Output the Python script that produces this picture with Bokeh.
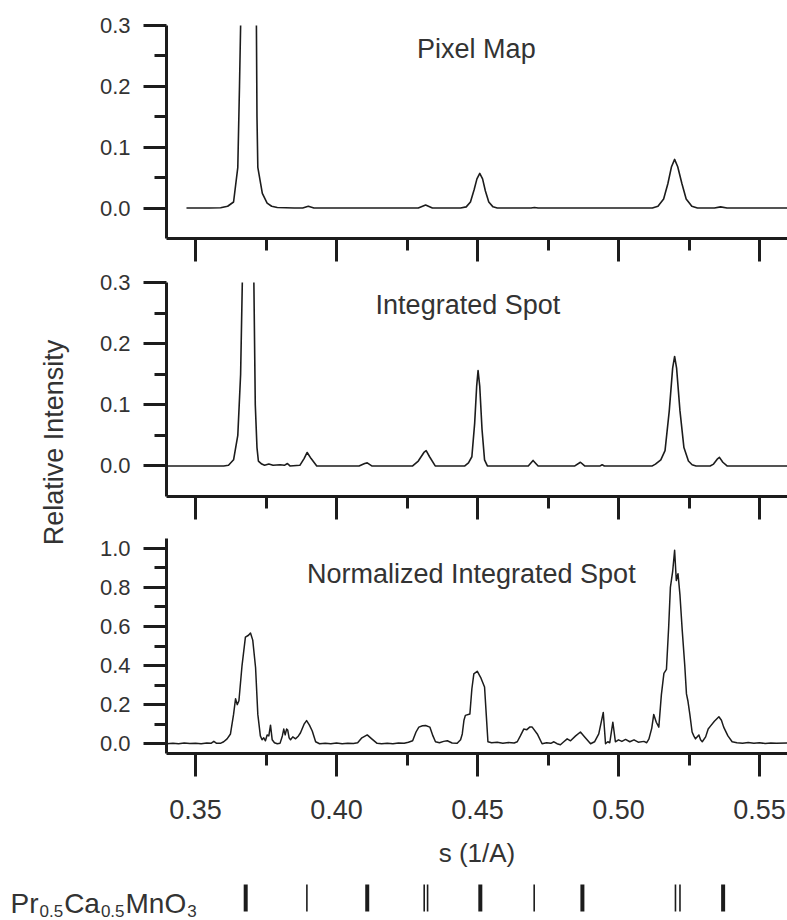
import math
from bokeh.plotting import figure
from bokeh.models import FixedTicker, NumeralTickFormatter, Label, Range1d
from bokeh.layouts import column, row
from bokeh.embed import file_html
from bokeh.resources import INLINE

# ---------------- data ----------------
x_major = [0.35, 0.40, 0.45, 0.50, 0.55]
x_minor = [0.375, 0.425, 0.475, 0.525]

# Pixel Map
pm_s = [0.3468, 0.3550, 0.3589, 0.3614, 0.3635, 0.3650, 0.3656, 0.3660, 0.3688,
        0.3716, 0.3718, 0.3721, 0.3737, 0.3754, 0.3770, 0.3790, 0.3850, 0.3880, 0.3900,
        0.3920, 0.4100, 0.4290, 0.4316, 0.4340, 0.4420, 0.4440, 0.4460, 0.4475, 0.4488,
        0.4498, 0.4508, 0.4518, 0.4528, 0.4540, 0.4555, 0.4570, 0.4690, 0.4702, 0.4715,
        0.5100, 0.5120, 0.5140, 0.5160, 0.5175, 0.5188, 0.5199, 0.5210, 0.5225, 0.5240,
        0.5260, 0.5280, 0.5340, 0.5362, 0.5385, 0.5650]
pm_v = [0.000, 0.000, 0.0005, 0.003, 0.010, 0.067, 0.200, 0.300, 1.000,
        0.300, 0.150, 0.067, 0.024, 0.008, 0.003, 0.001, 0.000, 0.000, 0.003,
        0.000, 0.000, 0.000, 0.005, 0.000, 0.000, 0.000, 0.002, 0.010, 0.030,
        0.048, 0.057, 0.048, 0.028, 0.010, 0.002, 0.000, 0.000, 0.001, 0.000,
        0.000, 0.000, 0.003, 0.015, 0.040, 0.068, 0.080, 0.068, 0.040, 0.015,
        0.003, 0.000, 0.000, 0.002, 0.000, 0.000]

# Integrated Spot
is_s = [0.3390, 0.3600, 0.3617, 0.3635, 0.3650, 0.3660, 0.3666, 0.3686, 0.3707, 0.3712,
        0.3718, 0.3723, 0.3735, 0.3745, 0.3760, 0.3775, 0.3800, 0.3815, 0.3826, 0.3835,
        0.3870, 0.3885, 0.3896, 0.3910, 0.3930, 0.4080, 0.4100, 0.4109, 0.4125, 0.4270,
        0.4290, 0.4310, 0.4318, 0.4330, 0.4350, 0.4455, 0.4468, 0.4480, 0.4490, 0.4497,
        0.4502, 0.4508, 0.4516, 0.4525, 0.4535, 0.4680, 0.4697, 0.4715, 0.4845, 0.4865,
        0.4880, 0.4935, 0.4942, 0.4950, 0.5120, 0.5131, 0.5150, 0.5165, 0.5180, 0.5192,
        0.5199, 0.5206, 0.5218, 0.5232, 0.5248, 0.5261, 0.5275, 0.5325, 0.5337, 0.5350,
        0.5358, 0.5370, 0.5385, 0.5650]
is_v = [0.000, 0.000, 0.001, 0.010, 0.050, 0.150, 0.300, 1.000, 0.300, 0.100,
        0.030, 0.008, 0.003, 0.001, 0.003, 0.001, 0.002, 0.001, 0.004, 0.000,
        0.001, 0.012, 0.022, 0.012, 0.000, 0.000, 0.004, 0.005, 0.000, 0.000,
        0.008, 0.022, 0.025, 0.015, 0.000, 0.000, 0.005, 0.015, 0.070, 0.130,
        0.156, 0.130, 0.060, 0.010, 0.000, 0.000, 0.009, 0.000, 0.000, 0.006,
        0.000, 0.000, 0.002, 0.000, 0.000, 0.003, 0.010, 0.025, 0.090, 0.160,
        0.179, 0.160, 0.090, 0.030, 0.008, 0.002, 0.000, 0.000, 0.003, 0.011,
        0.014, 0.006, 0.000, 0.000]

# Normalized Integrated Spot
ns_s = [0.3397, 0.3420, 0.3440, 0.3460, 0.3480, 0.3500, 0.3520, 0.3540, 0.3555, 0.3565,
        0.3575, 0.3590, 0.3600, 0.3612, 0.3624, 0.3635, 0.3642, 0.3648, 0.3654, 0.3665,
        0.3677, 0.3688, 0.3695, 0.3703, 0.3713, 0.3721, 0.3730, 0.3736, 0.3742, 0.3748,
        0.3754, 0.3760, 0.3766, 0.3772, 0.3780, 0.3790, 0.3800, 0.3808, 0.3813, 0.3818,
        0.3823, 0.3827, 0.3832, 0.3837, 0.3845, 0.3855, 0.3865, 0.3872, 0.3885, 0.3894,
        0.3904, 0.3914, 0.3926, 0.3940, 0.3960, 0.3980, 0.4000, 0.4020, 0.4040, 0.4060,
        0.4075, 0.4090, 0.4109, 0.4125, 0.4144, 0.4160, 0.4180, 0.4200, 0.4220, 0.4240,
        0.4255, 0.4270, 0.4282, 0.4292, 0.4305, 0.4316, 0.4331, 0.4342, 0.4351, 0.4365,
        0.4380, 0.4393, 0.4410, 0.4428, 0.4440, 0.4446, 0.4452, 0.4457, 0.4473, 0.4480,
        0.4487, 0.4499, 0.4511, 0.4525, 0.4531, 0.4537, 0.4550, 0.4570, 0.4590, 0.4610,
        0.4630, 0.4641, 0.4652, 0.4664, 0.4675, 0.4685, 0.4694, 0.4712, 0.4729, 0.4745,
        0.4760, 0.4771, 0.4782, 0.4794, 0.4806, 0.4818, 0.4830, 0.4848, 0.4865, 0.4880,
        0.4901, 0.4915, 0.4930, 0.4946, 0.4954, 0.4962, 0.4969, 0.4980, 0.4989, 0.5000,
        0.5012, 0.5025, 0.5040, 0.5055, 0.5070, 0.5090, 0.5100, 0.5108, 0.5118, 0.5125,
        0.5134, 0.5143, 0.5152, 0.5161, 0.5170, 0.5178, 0.5184, 0.5192, 0.5199, 0.5205,
        0.5211, 0.5218, 0.5226, 0.5235, 0.5241, 0.5246, 0.5253, 0.5261, 0.5267, 0.5273,
        0.5285, 0.5291, 0.5297, 0.5309, 0.5318, 0.5326, 0.5340, 0.5356, 0.5365, 0.5373,
        0.5388, 0.5403, 0.5420, 0.5440, 0.5460, 0.5480, 0.5500, 0.5520, 0.5540, 0.5560,
        0.5600]
ns_v = [0.000, 0.003, 0.000, 0.004, 0.001, 0.003, 0.000, 0.004, 0.002, 0.012,
        0.002, 0.003, 0.010, 0.025, 0.050, 0.150, 0.230, 0.200, 0.220, 0.400,
        0.545, 0.555, 0.566, 0.530, 0.390, 0.150, 0.040, 0.020, 0.030, 0.015,
        0.045, 0.040, 0.095, 0.020, 0.005, 0.000, 0.003, 0.040, 0.075, 0.045,
        0.075, 0.070, 0.030, 0.020, 0.035, 0.025, 0.040, 0.055, 0.100, 0.118,
        0.095, 0.065, 0.010, 0.000, 0.003, 0.000, 0.004, 0.000, 0.003, 0.001,
        0.005, 0.030, 0.045, 0.025, 0.002, 0.000, 0.003, 0.000, 0.004, 0.002,
        0.008, 0.015, 0.060, 0.085, 0.092, 0.093, 0.085, 0.040, 0.010, 0.005,
        0.012, 0.015, 0.004, 0.002, 0.020, 0.050, 0.120, 0.145, 0.152, 0.280,
        0.357, 0.371, 0.340, 0.290, 0.150, 0.010, 0.005, 0.007, 0.003, 0.006,
        0.004, 0.010, 0.040, 0.075, 0.072, 0.085, 0.085, 0.050, 0.000, 0.005,
        0.002, 0.010, 0.000, -0.005, 0.010, 0.025, 0.015, 0.040, 0.060, 0.035,
        0.000, 0.010, 0.050, 0.160, 0.000, 0.010, 0.005, 0.110, 0.010, 0.020,
        0.012, 0.022, 0.010, 0.020, 0.008, 0.012, 0.005, 0.025, 0.080, 0.150,
        0.110, 0.085, 0.250, 0.360, 0.380, 0.600, 0.800, 0.880, 0.990, 0.835,
        0.870, 0.760, 0.580, 0.400, 0.255, 0.220, 0.150, 0.060, 0.040, 0.025,
        0.045, 0.020, 0.010, 0.035, 0.075, 0.090, 0.115, 0.138, 0.120, 0.085,
        0.040, 0.010, 0.005, 0.002, 0.006, 0.002, 0.005, 0.001, 0.004, 0.002,
        0.004]

# Pr0.5Ca0.5MnO3 reflection positions
refl_s = [0.3678, 0.3895, 0.4109, 0.4311, 0.4323, 0.4510, 0.4701, 0.4872, 0.5202, 0.5218, 0.5371]
refl_strong = [True, False, True, False, False, True, False, True, False, False, True]

panel_titles = ["Pixel Map", "Integrated Spot", "Normalized Integrated Spot"]
y_label = "Relative Intensity"
x_label = "s (1/A)"
formula_parts = ["Pr", "0.5", "Ca", "0.5", "MnO", "3"]
formula_is_sub = [False, True, False, True, False, True]

# ---------------- styling / layout ----------------
FONT = "Liberation Sans"
INK = "#1c1c1c"
TXT = "#333333"
LABEL_W = 70            # strip holding the rotated y label
AXIS_X = 166            # page x of the y axes
FW = 787 - AXIS_X       # frame width
PPU = 2820.0            # pixels per unit of s
X0 = 0.35 - (195 - AXIS_X) / PPU
X1 = X0 + FW / PPU


def style_axes(p, show_x_labels):
    for ax in (p.xaxis[0], p.yaxis[0]):
        ax.axis_line_width = 3
        ax.axis_line_color = INK
        ax.major_tick_line_width = 3
        ax.minor_tick_line_width = 3
        ax.major_tick_line_color = INK
        ax.minor_tick_line_color = INK
        ax.major_tick_in = 0
        ax.minor_tick_in = 0
        ax.major_tick_out = 23
        ax.minor_tick_out = 12
        ax.major_label_text_font = FONT
        ax.major_label_text_color = TXT
    p.yaxis[0].major_label_text_font_size = "22px"
    p.yaxis[0].major_label_standoff = 13
    p.xaxis[0].ticker = FixedTicker(ticks=x_major, minor_ticks=x_minor)
    if show_x_labels:
        p.xaxis[0].formatter = NumeralTickFormatter(format="0.00")
        p.xaxis[0].major_label_text_font_size = "27px"
        p.xaxis[0].major_label_standoff = 23
    else:
        p.xaxis[0].major_label_overrides = {t: "" for t in x_major}
        p.xaxis[0].major_label_text_font_size = "10px"
        p.xaxis[0].major_label_standoff = 2
    p.xgrid.visible = False
    p.ygrid.visible = False
    p.outline_line_color = None
    p.background_fill_color = "white"
    p.border_fill_color = "white"


def panel(frame_h, yr, yt, ym, top, bottom, show_x_labels=False):
    p = figure(frame_width=FW, frame_height=frame_h,
               x_range=Range1d(X0, X1), y_range=Range1d(*yr),
               output_backend="svg", toolbar_location=None,
               min_border_left=AXIS_X - LABEL_W, min_border_right=0,
               min_border_top=top, min_border_bottom=bottom)
    style_axes(p, show_x_labels)
    p.yaxis[0].ticker = FixedTicker(ticks=yt, minor_ticks=ym)
    p.yaxis[0].formatter = NumeralTickFormatter(format="0.0")
    return p


def title(p, text, x, y):
    p.add_layout(Label(x=x, y=y, text=text, text_font=FONT, text_font_size="27px",
                       text_color=TXT, text_align="center", text_baseline="middle"))


# top: Pixel Map   (frame 25..238)
p1 = panel(213, (-0.05, 0.30), [0.0, 0.1, 0.2, 0.3], [0.05, 0.15, 0.25], 25, 31)
p1.line(pm_s, pm_v, line_color=INK, line_width=1.6, line_join="round")
title(p1, panel_titles[0], 0.4496, 0.262)

# middle: Integrated Spot   (frame 282..496)
p2 = panel(214, (-0.05, 0.30), [0.0, 0.1, 0.2, 0.3], [0.05, 0.15, 0.25], 13, 29)
p2.line(is_s, is_v, line_color=INK, line_width=1.6, line_join="round")
title(p2, panel_titles[1], 0.4466, 0.264)

# bottom: Normalized Integrated Spot   (frame 538..753)
p3 = panel(215, (-0.05, 1.05), [0.0, 0.2, 0.4, 0.6, 0.8, 1.0], [0.1, 0.3, 0.5, 0.7, 0.9], 13, 120,
           show_x_labels=True)
p3.line(ns_s, ns_v, line_color=INK, line_width=1.5, line_join="round")
title(p3, panel_titles[2], 0.4478, 0.867)
p3.xaxis[0].axis_label = x_label
p3.xaxis[0].axis_label_text_font = FONT
p3.xaxis[0].axis_label_text_font_size = "26px"
p3.xaxis[0].axis_label_text_font_style = "normal"
p3.xaxis[0].axis_label_text_color = TXT
p3.xaxis[0].axis_label_standoff = 16

H_TOP = (25 + 213 + 31) + (13 + 214 + 29) + (13 + 215 + 120)

# left strip with the rotated y label (page-pixel coordinates)
pl = figure(frame_width=LABEL_W, frame_height=H_TOP, x_range=Range1d(0, LABEL_W),
            y_range=Range1d(H_TOP, 0), output_backend="svg", toolbar_location=None,
            x_axis_type=None, y_axis_type=None, min_border=0)
pl.xgrid.visible = False
pl.ygrid.visible = False
pl.outline_line_color = None
pl.add_layout(Label(x=53, y=442, text=y_label, angle=math.pi / 2, text_font=FONT,
                    text_font_size="27px", text_color=TXT,
                    text_align="center", text_baseline="middle"))

# bottom strip: formula and reflection markers (x in s, y in page pixels)
p4 = figure(frame_width=787, frame_height=920 - H_TOP,
            x_range=Range1d(X0 - AXIS_X / PPU, X1), y_range=Range1d(920, H_TOP),
            output_backend="svg", toolbar_location=None, x_axis_type=None, y_axis_type=None,
            min_border=0)
p4.xgrid.visible = False
p4.ygrid.visible = False
p4.outline_line_color = None
widths = [4 if s else 1.6 for s in refl_strong]
p4.segment(x0=refl_s, y0=[911] * len(refl_s), x1=refl_s, y1=[884] * len(refl_s),
           line_color=INK, line_width=widths)


def sx(page_x):
    return X0 + (page_x - AXIS_X) / PPU


cursor = 10
for txt, sub in zip(formula_parts, formula_is_sub):
    fs = 17 if sub else 28
    p4.add_layout(Label(x=sx(cursor), y=910 if sub else 903, text=txt, text_font=FONT,
                        text_font_size=f"{fs}px", text_color=TXT,
                        text_align="left", text_baseline="alphabetic"))
    adv = {"Pr": 1.0, "Ca": 1.278, "MnO": 2.167, "0.5": 1.39, "3": 0.556}[txt]
    cursor += adv * fs + 1

layout = column(row(pl, column(p1, p2, p3)), p4)
open("out.html", "w").write(file_html(layout, INLINE))
